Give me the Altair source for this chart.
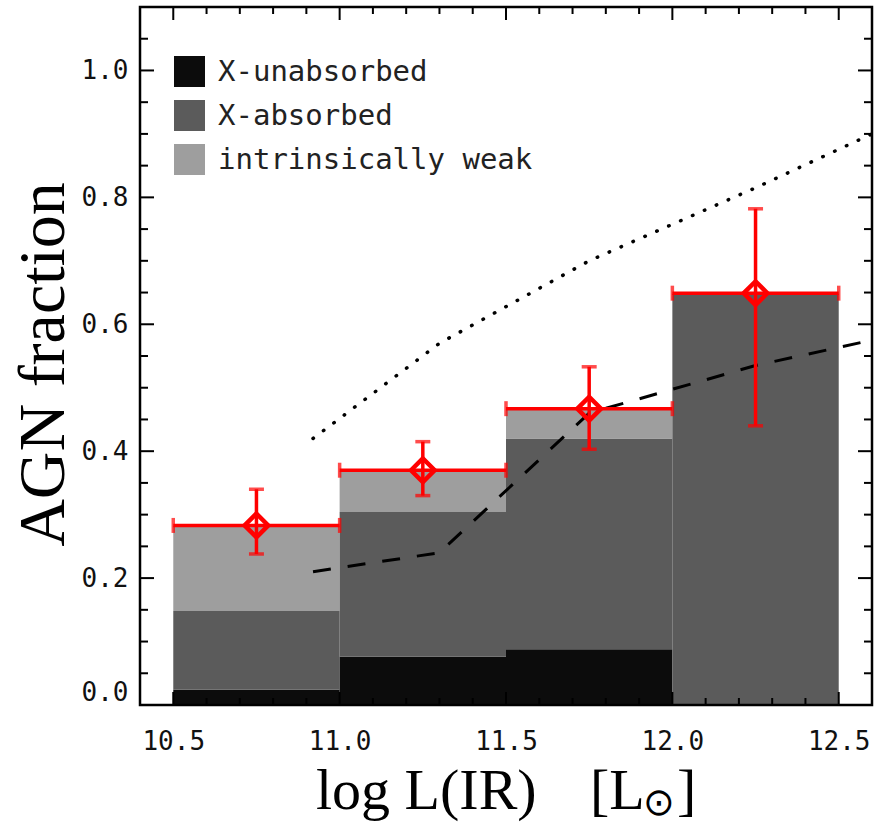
import altair as alt
import pandas as pd

# ---------------- data ----------------
bin_lo = [10.5, 11.0, 11.5, 12.0]
bin_hi = [11.0, 11.5, 12.0, 12.5]
bin_mid = [10.75, 11.25, 11.75, 12.25]
frac_unabs = [0.024, 0.076, 0.088, 0.0]
frac_abs = [0.124, 0.228, 0.332, 0.648]
frac_weak = [0.134, 0.065, 0.045, 0.0]
agn_frac = [0.283, 0.370, 0.467, 0.649]
err_lo = [0.238, 0.330, 0.403, 0.440]
err_hi = [0.340, 0.415, 0.533, 0.782]
dash_x = [10.92, 11.3, 11.75, 12.25, 12.6]
dash_y = [0.21, 0.24, 0.46, 0.535, 0.575]
dot_x = [10.92, 11.3, 11.75, 12.25, 12.6]
dot_y = [0.42, 0.57, 0.70, 0.815, 0.90]
x_major = [10.5, 11.0, 11.5, 12.0, 12.5]
x_minor = [10.6, 10.7, 10.8, 10.9, 11.1, 11.2, 11.3, 11.4, 11.6, 11.7, 11.8, 11.9,
           12.1, 12.2, 12.3, 12.4]
y_major = [0.0, 0.2, 0.4, 0.6, 0.8, 1.0]
y_minor = [0.05, 0.1, 0.15, 0.25, 0.3, 0.35, 0.45, 0.5, 0.55, 0.65, 0.7, 0.75,
           0.85, 0.9, 0.95, 1.05]
categories = ["X-unabsorbed", "X-absorbed", "intrinsically weak"]
colors = ["#0c0c0c", "#5b5b5b", "#9e9e9e"]

W, H = 732, 698
RED = "#ff0000"

# stacked bar table
rows = []
for i in range(4):
    c0 = 0.0
    for cat, f in zip(categories, [frac_unabs[i], frac_abs[i], frac_weak[i]]):
        rows.append({"lo": bin_lo[i], "hi": bin_hi[i], "y0": c0, "y1": c0 + f, "cat": cat})
        c0 += f
bars_df = pd.DataFrame(rows)
pts_df = pd.DataFrame({"lo": bin_lo, "hi": bin_hi, "mid": bin_mid, "f": agn_frac,
                       "elo": err_lo, "ehi": err_hi})
dash_df = pd.DataFrame({"x": dash_x, "y": dash_y})
dot_df = pd.DataFrame({"x": dot_x, "y": dot_y})

xs = alt.Scale(domain=[10.4, 12.6], nice=False, zero=False)
ys = alt.Scale(domain=[0.0, 1.1], nice=False, zero=False)

bars = alt.Chart(bars_df).mark_rect(strokeWidth=0).encode(
    x=alt.X("lo:Q", scale=xs,
            axis=alt.Axis(values=x_major, format=".1f", ticks=False, domain=False, grid=False,
                          title=None, labelFont="DejaVu Sans Mono", labelFontSize=26,
                          labelColor="#111", labelPadding=23, labelFlush=False)),
    x2="hi:Q",
    y=alt.Y("y0:Q", scale=ys,
            axis=alt.Axis(values=y_major, format=".1f", ticks=False, domain=False, grid=False,
                          title="AGN fraction", titleFont="Liberation Serif", titleFontSize=66,
                          titleFontWeight="normal", titleColor="black", titleX=-77, titleY=357,
                          titleAngle=270, titleAlign="center", titleBaseline="alphabetic",
                          labelFont="DejaVu Sans Mono", labelFontSize=26, labelColor="#111",
                          labelPadding=12, labelFlush=True)),
    y2="y1:Q",
    color=alt.Color("cat:N", scale=alt.Scale(domain=categories, range=colors),
                    legend=alt.Legend(orient="none", legendX=34, legendY=49, title=None,
                                      symbolType="square", symbolSize=961,
                                      symbolStrokeWidth=0, symbolOpacity=1,
                                      labelFont="DejaVu Sans Mono", labelFontSize=29,
                                      labelColor="#222", labelOffset=13, rowPadding=13,
                                      padding=0, labelLimit=400)),
)

dashed = alt.Chart(dash_df).mark_line(color="black", strokeWidth=3, strokeDash=[18, 17],
                                      clip=True).encode(
    x=alt.X("x:Q", scale=xs), y=alt.Y("y:Q", scale=ys))
dotted = alt.Chart(dot_df).mark_line(color="black", strokeWidth=3.5, strokeDash=[0.5, 12.5],
                                     strokeCap="round", clip=True).encode(
    x=alt.X("x:Q", scale=xs), y=alt.Y("y:Q", scale=ys))

hbar = alt.Chart(pts_df).mark_rule(color=RED, strokeWidth=3.5).encode(
    x=alt.X("lo:Q", scale=xs), x2="hi:Q", y=alt.Y("f:Q", scale=ys))
vbar = alt.Chart(pts_df).mark_rule(color=RED, strokeWidth=3.5).encode(
    x=alt.X("mid:Q", scale=xs), y=alt.Y("elo:Q", scale=ys), y2="ehi:Q")
cap_l = alt.Chart(pts_df).mark_tick(color=RED, orient="vertical", size=15, thickness=3.5).encode(
    x=alt.X("lo:Q", scale=xs), y=alt.Y("f:Q", scale=ys))
cap_r = alt.Chart(pts_df).mark_tick(color=RED, orient="vertical", size=15, thickness=3.5).encode(
    x=alt.X("hi:Q", scale=xs), y=alt.Y("f:Q", scale=ys))
cap_t = alt.Chart(pts_df).mark_tick(color=RED, orient="horizontal", size=15, thickness=3.5).encode(
    x=alt.X("mid:Q", scale=xs), y=alt.Y("ehi:Q", scale=ys))
cap_b = alt.Chart(pts_df).mark_tick(color=RED, orient="horizontal", size=15, thickness=3.5).encode(
    x=alt.X("mid:Q", scale=xs), y=alt.Y("elo:Q", scale=ys))
diamond = alt.Chart(pts_df).mark_point(shape="diamond", size=560, filled=False, color=RED,
                                       strokeWidth=4.5, opacity=1).encode(
    x=alt.X("mid:Q", scale=xs), y=alt.Y("f:Q", scale=ys))
plus = alt.Chart(pts_df).mark_point(shape="M-1,0L1,0M0,-1L0,1", size=560, filled=False,
                                    color=RED, strokeWidth=1.8, opacity=1).encode(
    x=alt.X("mid:Q", scale=xs), y=alt.Y("f:Q", scale=ys))

# inward ticks on all four sides
def xticks(vals, length, top):
    d = pd.DataFrame({"v": vals})
    if top:
        enc = dict(y=alt.value(0), y2=alt.value(length))
    else:
        enc = dict(y=alt.value(H), y2=alt.value(H - length))
    return alt.Chart(d).mark_rule(color="black", strokeWidth=2).encode(
        x=alt.X("v:Q", scale=xs), **enc)

def yticks(vals, length, left):
    d = pd.DataFrame({"v": vals})
    if left:
        enc = dict(x=alt.value(0), x2=alt.value(length))
    else:
        enc = dict(x=alt.value(W), x2=alt.value(W - length))
    return alt.Chart(d).mark_rule(color="black", strokeWidth=2).encode(
        y=alt.Y("v:Q", scale=ys), **enc)

ticks = [xticks(x_major, 13, True), xticks(x_minor, 7, True),
         xticks(x_major, 13, False), xticks(x_minor, 7, False),
         yticks(y_major, 14, True), yticks(y_minor, 8, True),
         yticks(y_major, 14, False), yticks(y_minor, 8, False)]

one = pd.DataFrame({"a": [0]})
frame = alt.Chart(one).mark_rect(filled=False, stroke="black", strokeWidth=2.5).encode(
    x=alt.value(0), x2=alt.value(W), y=alt.value(0), y2=alt.value(H))

# x-axis title pieces (with subscript sun symbol)
t1 = alt.Chart(one).mark_text(text="log L(IR)", font="Liberation Serif", fontSize=58,
                              align="left", baseline="alphabetic", color="black").encode(
    x=alt.value(176), y=alt.value(802))
t2 = alt.Chart(one).mark_text(text="[L", font="Liberation Serif", fontSize=58,
                              align="left", baseline="alphabetic", color="black").encode(
    x=alt.value(450), y=alt.value(802))
t3 = alt.Chart(one).mark_text(text="⊙", font="DejaVu Sans", fontSize=38,
                              align="center", baseline="middle", color="black").encode(
    x=alt.value(519), y=alt.value(797))
t4 = alt.Chart(one).mark_text(text="]", font="Liberation Serif", fontSize=58,
                              align="left", baseline="alphabetic", color="black").encode(
    x=alt.value(537), y=alt.value(802))

chart = alt.layer(
    bars, dashed, dotted, hbar, vbar, cap_l, cap_r, cap_t, cap_b, diamond, plus,
    *ticks, frame, t1, t2, t3, t4
).properties(
    width=W, height=H,
    autosize=alt.AutoSizeParams(type="none"),
    padding={"left": 140, "top": 7, "right": 17, "bottom": 121},
    background="white",
).configure_view(stroke=None)

chart.save("out.html", embed_options={"renderer": "svg", "actions": False})
